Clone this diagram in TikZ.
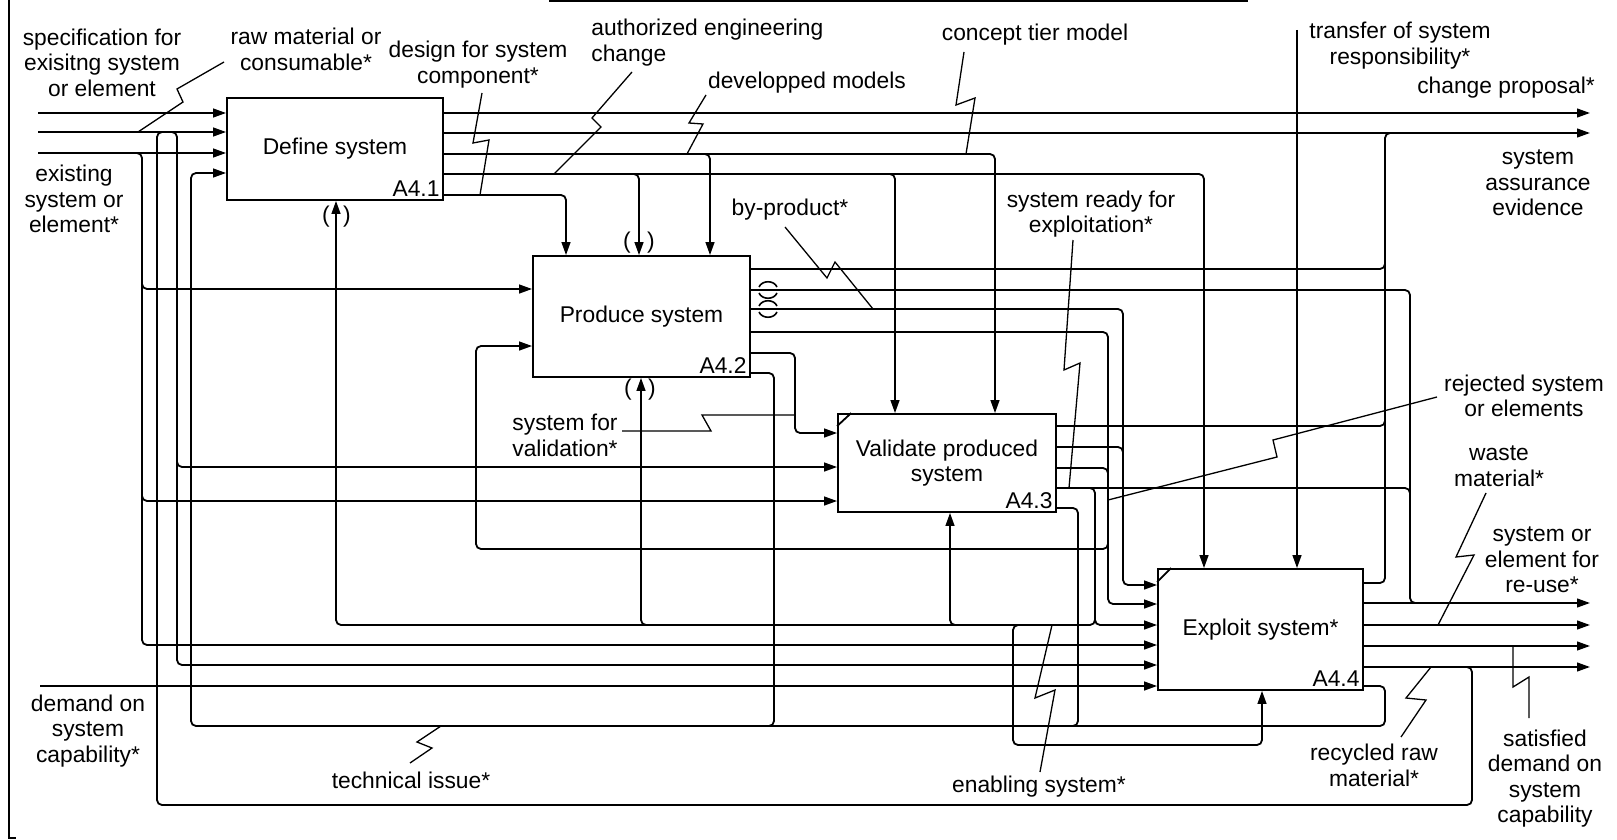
\documentclass[tikz,border=0pt]{standalone}
\usepackage{fontspec}
\setmainfont{Liberation Sans}
\usetikzlibrary{arrows.meta}
\newcommand\idef{\fontsize{11.4}{12.8}\selectfont}
\tikzset{
    box/.style={rectangle,draw,line width=0.9pt,inner sep=0pt,align=center,font=\idef},
    num/.style={anchor=south east,inner sep=2pt,font=\idef},
    lbl/.style={align=center,inner sep=0pt,font=\idef},
    wire/.style={line width=0.9pt,rounded corners=2.5pt},
    arr/.style={wire,-{Triangle[length=6.5pt,width=4.4pt]}},
    squig/.style={line width=0.65pt},
    tunnel/.style={line width=0.8pt},
}
\begin{document}
\begin{tikzpicture}[x=0.5pt,y=-0.5pt]
\useasboundingbox (0,0) rectangle (1617,840);
\draw[line width=0.9pt] (9,0) -- (9,838) -- (16,838);
\draw[line width=0.9pt] (549,1) -- (1248,1);

\node[box,minimum width=108pt,minimum height=51pt] (define) at (335,149) {Define system};
\node[box,minimum width=108.5pt,minimum height=60.5pt] (produce) at (641.5,316.5) {Produce system};
\node[box,minimum width=109pt,minimum height=49pt] (validate) at (947,463) {Validate produced\\system};
\node[box,minimum width=102.5pt,minimum height=60.5pt] (exploit) at (1260.5,629.5) {Exploit system*};
\node[num] (defineNo) at (define.south east) {A4.1};
\node[num] (produceNo) at (produce.south east) {A4.2};
\node[num] (validateNo) at (validate.south east) {A4.3};
\node[num] (exploitNo) at (exploit.south east) {A4.4};
\draw[line width=0.9pt] (validate.north west) ++(0,13) -- ++(14,-13);
\draw[line width=0.9pt] (exploit.north west) ++(0,14) -- ++(14,-14);

\node[lbl] (specLbl) at (102,62.5) {specification for\\exisitng system\\or element};
\node[lbl] (rawLbl) at (306,49.5) {raw material or\\consumable*};
\node[lbl] (designLbl) at (478,64.5) {design for system\\component*};
\node[lbl,align=left,anchor=west] (authLbl) at (591,42.5) {authorized engineering\\change};
\node[lbl] (modelsLbl) at (807,83) {developped models};
\node[lbl] (conceptLbl) at (1035,35) {concept tier model};
\node[lbl] (byprodLbl) at (790,210) {by-product*};
\node[lbl] (readyLbl) at (1091,214) {system ready for\\exploitation*};
\node[lbl] (transferLbl) at (1400,45.5) {transfer of system\\responsibility*};
\node[lbl] (changeLbl) at (1506,88) {change proposal*};
\node[lbl] (assurLbl) at (1538,183) {system\\assurance\\evidence};
\node[lbl] (existLbl) at (74,199) {existing\\system or\\element*};
\node[lbl] (rejectLbl) at (1524,396) {rejected system\\or elements};
\node[lbl] (wasteLbl) at (1499,466) {waste\\material*};
\node[lbl] (reuseLbl) at (1542,560) {system or\\element for\\re-use*};
\node[lbl] (satisLbl) at (1545,778.5) {satisfied\\demand on\\system\\capability};
\node[lbl] (recycLbl) at (1374,765.5) {recycled raw\\material*};
\node[lbl] (enablLbl) at (1039,787) {enabling system*};
\node[lbl] (techLbl) at (411,780) {technical issue*};
\node[lbl] (demandLbl) at (88,731) {demand on\\system\\capability*};
\node[lbl,align=right,anchor=east] (forvalLbl) at (618,435.5) {system for\\validation*};

\node[lbl] (tA) at (326,217) {(};
\node[lbl] (tB) at (347,217) {)};
\node[lbl] (tC) at (627,243) {(};
\node[lbl] (tD) at (651,243) {)};
\node[lbl] (tE) at (628,390) {(};
\node[lbl] (tF) at (652,390) {)};
\draw[tunnel] (759,287) .. controls (762,280) and (774,280) .. (777,287);
\draw[tunnel] (759,293) .. controls (762,300) and (774,300) .. (777,293);
\draw[tunnel] (759,306) .. controls (762,299) and (774,299) .. (777,306);
\draw[tunnel] (759,312) .. controls (762,319) and (774,319) .. (777,312);

\draw[arr] (38,113) -- (define.west |- 0,113);
\draw[arr] (38,132) -- (define.west |- 0,132);
\draw[arr] (38,153) -- (define.west |- 0,153);
\draw[arr] (130,153) -- (142,153) -- (142,645) -- (exploit.west |- 0,645);
\draw[arr] (142,280) -- (142,289) -- (produce.west |- 0,289);
\draw[arr] (142,492) -- (142,501) -- (validate.west |- 0,501);
\draw[arr] (167,132) -- (177,132) -- (177,665) -- (exploit.west |- 0,665);
\draw[arr] (177,458) -- (177,467) -- (validate.west |- 0,467);
\draw[arr] (40,686) -- (exploit.west |- 0,686);

\draw[arr] (define.east |- 0,113) -- (1590,113);
\draw[arr] (define.east |- 0,133) -- (1590,133);
\draw[arr] (define.east |- 0,154) -- (995,154) -- (validate.north -| 995,0);
\draw[arr] (700,154) -- (710,154) -- (produce.north -| 710,0);
\draw[arr] (define.east |- 0,174) -- (1204,174) -- (exploit.north -| 1204,0);
\draw[arr] (629,174) -- (639,174) -- (produce.north -| 639,0);
\draw[arr] (885,174) -- (895,174) -- (validate.north -| 895,0);
\draw[arr] (define.east |- 0,195) -- (566,195) -- (produce.north -| 566,0);
\draw[arr] (1297,30) -- (exploit.north -| 1297,0);

\draw[wire] (produce.east |- 0,269) -- (1385,269) -- (1385,259);
\draw[wire] (produce.east |- 0,290) -- (1410,290) -- (1410,603) -- (1420,603);
\draw[arr] (produce.east |- 0,309) -- (1123,309) -- (1123,585) -- (exploit.west |- 0,585);
\draw[arr] (produce.east |- 0,332) -- (1108,332) -- (1108,604) -- (exploit.west |- 0,604);
\draw[arr] (produce.east |- 0,353) -- (795,353) -- (795,433) -- (validate.west |- 0,433);
\draw[wire] (produce.east |- 0,373) -- (774,373) -- (774,726) -- (764,726);
\draw[arr] (1108,540) -- (1108,549) -- (476,549) -- (476,346) -- (produce.west |- 0,346);

\draw[wire] (validate.east |- 0,426) -- (1385,426) -- (1385,416);
\draw[wire] (validate.east |- 0,447) -- (1123,447) -- (1123,457);
\draw[wire] (validate.east |- 0,468) -- (1108,468) -- (1108,478);
\draw[wire] (validate.east |- 0,488) -- (1410,488) -- (1410,498);
\draw[arr] (1085,488) -- (1095,488) -- (1095,625) -- (exploit.west |- 0,625);
\draw[wire] (validate.east |- 0,508) -- (1078,508) -- (1078,726) -- (1068,726);

\draw[arr] (1095,615) -- (1095,625) -- (336,625) -- (define.south -| 336,0);
\draw[arr] (651,625) -- (641,625) -- (produce.south -| 641,0);
\draw[arr] (960,625) -- (950,625) -- (validate.south -| 950,0);
\draw[arr] (1023,625) -- (1013,625) -- (1013,745) -- (1262,745) -- (exploit.south -| 1262,0);

\draw[wire] (exploit.east |- 0,583) -- (1385,583) -- (1385,133) -- (1395,133);
\draw[arr] (exploit.east |- 0,603) -- (1590,603);
\draw[arr] (exploit.east |- 0,625) -- (1590,625);
\draw[arr] (exploit.east |- 0,646) -- (1590,646);
\draw[arr] (exploit.east |- 0,667) -- (1590,667);
\draw[wire] (1462,667) -- (1472,667) -- (1472,805) -- (157,805) -- (157,132) -- (167,132);
\draw[arr] (exploit.east |- 0,686) -- (1385,686) -- (1385,726) -- (191,726) -- (191,173) -- (define.west |- 0,173);

\draw[squig] (224,62) -- (177,89) -- (183,102) -- (138,132);
\draw[squig] (482,93) -- (473,143) -- (489,140) -- (480,195);
\draw[squig] (632,72) -- (592,118) -- (601,127) -- (554,174);
\draw[squig] (706,95) -- (689,123) -- (703,124) -- (687,154);
\draw[squig] (964,52) -- (956,105) -- (975,98) -- (966,154);
\draw[squig] (785,227) -- (827,278) -- (835,262) -- (873,309);
\draw[squig] (1073,240) -- (1064,370) -- (1080,363) -- (1069,488);
\draw[squig] (1437,397) -- (1273,440) -- (1277,457) -- (1108,500);
\draw[squig] (1486,493) -- (1456,557) -- (1474,555) -- (1438,625);
\draw[squig] (1529,718) -- (1529,677) -- (1513,687) -- (1513,646);
\draw[squig] (1401,737) -- (1426,700) -- (1406,698) -- (1431,667);
\draw[squig] (1040,772) -- (1055,690) -- (1035,698) -- (1052,625);
\draw[squig] (410,763) -- (432,748) -- (417,742) -- (441,726);
\draw[squig] (622,431) -- (711,431) -- (702,415) -- (795,415);
\end{tikzpicture}
\end{document}
